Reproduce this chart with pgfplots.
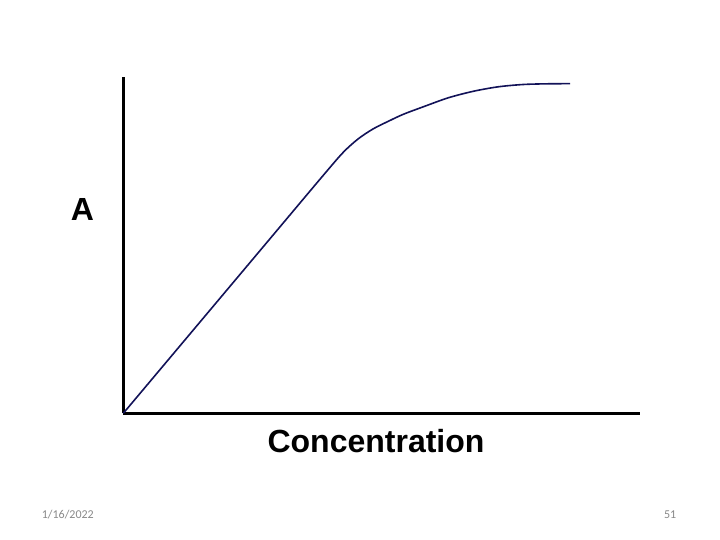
\documentclass[border=0pt]{standalone}
\usepackage{pgfplots}
\pgfplotsset{compat=1.18}
\usepackage{fontspec}
\setmainfont{Liberation Sans}
\newfontfamily\calibri{Carlito}
\definecolor{curve}{RGB}{18,18,88}
\definecolor{foot}{RGB}{137,137,137}
\begin{document}
\begin{tikzpicture}[x=1pt,y=1pt]
\useasboundingbox[fill=white] (0,0) rectangle (720,540);
\begin{axis}[
  at={(123.3pt,126.7pt)}, anchor=origin,
  scale only axis, width=516.7pt, height=336pt,
  xmin=0, xmax=516.7, ymin=0, ymax=336,
  axis x line=bottom, axis y line=left,
  axis line style={-, line width=2.6pt, black},
  ticks=none,
  clip=false,
]
\addplot[curve, line width=1.6pt, smooth, tension=0.5] coordinates {
(0,0) (50,59.5) (100,119) (150,178.5) (200,238) (220,261)
(235,274.5) (250,284.5) (265,292) (280,299) (300,306.5)
(325,315.5) (350,322) (375,326.5) (400,328.8) (425,329.5) (446.7,329.6)
};
\end{axis}
\node[anchor=base, font=\fontsize{32}{36}\selectfont\bfseries] at (82.5,319.5) {A};
\node[anchor=base, font=\fontsize{32}{36}\selectfont\bfseries] at (376,87) {Concentration};
\node[anchor=base west, inner sep=0, text=foot, font=\calibri\fontsize{12}{14}\selectfont] at (41.7,21) {1/16/2022};
\node[anchor=base east, inner sep=0, text=foot, font=\calibri\fontsize{12}{14}\selectfont] at (676.5,21) {51};
\end{tikzpicture}
\end{document}
